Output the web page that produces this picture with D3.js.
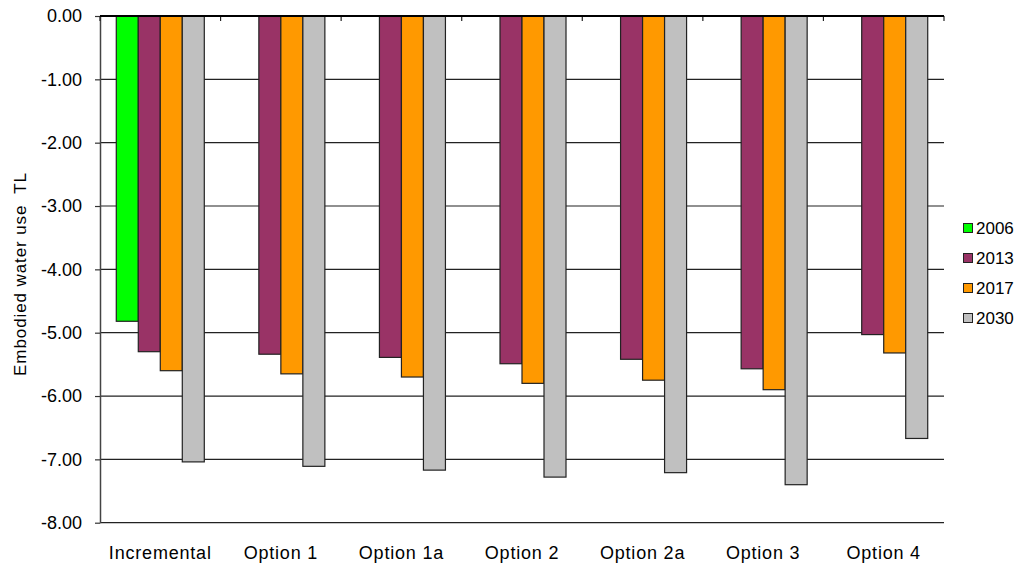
<!DOCTYPE html>
<html>
<head>
<meta charset="utf-8">
<script src="https://cdn.jsdelivr.net/npm/d3@7"></script>
<style>
  html, body { margin: 0; padding: 0; background: #fff; }
  svg { display: block; font-family: "Liberation Sans", Arial, Helvetica, sans-serif; }
</style>
</head>
<body>
<svg id="chart" width="1020" height="565"></svg>
<script>
// Embodied water use (TL) by scenario and year
const categories = ["Incremental", "Option 1", "Option 1a", "Option 2", "Option 2a", "Option 3", "Option 4"];
const seriesNames = ["2006", "2013", "2017", "2030"];
const values2006 = [-4.82, null, null, null, null, null, null];
const values2013 = [-5.30, -5.34, -5.39, -5.49, -5.42, -5.57, -5.03];
const values2017 = [-5.60, -5.65, -5.70, -5.80, -5.75, -5.90, -5.32];
const values2030 = [-7.04, -7.11, -7.17, -7.28, -7.21, -7.40, -6.67];
const yTicks = [0, -1, -2, -3, -4, -5, -6, -7, -8];
const seriesColors = ["#00FF00", "#993366", "#FF9900", "#C0C0C0"];
const yTitle = "Embodied water use  TL";

const seriesValues = [values2006, values2013, values2017, values2030];

const svg = d3.select("#chart");
const plotLeft = 100, plotRight = 944, plotTop = 16, plotBottom = 522.7;

const x0 = d3.scaleBand().domain(categories).range([plotLeft, plotRight])
  .paddingInner(0.27).paddingOuter(0.135);
const x1 = d3.scaleBand().domain(seriesNames).range([0, x0.bandwidth()]);
const y = d3.scaleLinear().domain([0, -8]).range([plotTop, plotBottom]);

// horizontal gridlines
svg.append("g").selectAll("line").data(yTicks.filter(d => d !== 0)).join("line")
  .attr("x1", plotLeft).attr("x2", plotRight)
  .attr("y1", d => y(d)).attr("y2", d => y(d))
  .attr("stroke", "#222").attr("stroke-width", 1.2);

// bars
const groups = svg.append("g").selectAll("g").data(categories).join("g")
  .attr("transform", d => `translate(${x0(d)},0)`);
groups.selectAll("rect")
  .data((c, i) => seriesNames.map((s, j) => ({ s, j, v: seriesValues[j][i] })).filter(d => d.v != null))
  .join("rect")
  .attr("x", d => x1(d.s))
  .attr("width", x1.bandwidth())
  .attr("y", y(0))
  .attr("height", d => y(d.v) - y(0))
  .attr("fill", d => seriesColors[d.j])
  .attr("stroke", "#222")
  .attr("stroke-width", 1.2);

// value axis
const yAxis = d3.axisLeft(y).tickValues(yTicks).tickSize(5).tickSizeOuter(0)
  .tickFormat(d => d.toFixed(2));
const ya = svg.append("g").attr("transform", `translate(${plotLeft},0)`).call(yAxis);
ya.select(".domain").attr("stroke", "#444").attr("stroke-width", 1.5);
ya.selectAll(".tick line").attr("stroke", "#333").attr("stroke-width", 1.2);
ya.selectAll(".tick text").attr("x", -18).attr("font-size", 18)
  .attr("fill", "#000").attr("font-family", "Liberation Sans, Arial, sans-serif");

// category axis along zero line, ticks at band boundaries
svg.append("g").selectAll("line")
  .data(d3.range(categories.length + 1))
  .join("line")
  .attr("x1", i => plotLeft + i * x0.step()).attr("x2", i => plotLeft + i * x0.step())
  .attr("y1", y(0)).attr("y2", y(0) + 5)
  .attr("stroke", "#222").attr("stroke-width", 1.2);
svg.append("line")
  .attr("x1", plotLeft).attr("x2", plotRight)
  .attr("y1", y(0)).attr("y2", y(0))
  .attr("stroke", "#000").attr("stroke-width", 2.2);

// category labels
svg.append("g").selectAll("text").data(categories).join("text")
  .attr("x", d => x0(d) + x0.bandwidth() / 2)
  .attr("y", 559)
  .attr("text-anchor", "middle")
  .attr("font-size", 18)
  .attr("letter-spacing", 0.8)
  .text(d => d);

// axis title
svg.append("text")
  .attr("transform", "translate(26,274) rotate(-90)")
  .attr("text-anchor", "middle")
  .attr("font-size", 17)
  .attr("letter-spacing", 0.9)
  .style("white-space", "pre")
  .text(yTitle);

// legend
const legend = svg.append("g").selectAll("g").data(seriesNames).join("g")
  .attr("transform", (d, i) => `translate(963,${228 + i * 30})`);
legend.append("rect")
  .attr("x", 0.5).attr("y", -4.5).attr("width", 9).attr("height", 9)
  .attr("fill", (d, i) => seriesColors[i]).attr("stroke", "#222").attr("stroke-width", 1);
legend.append("text")
  .attr("x", 13).attr("y", 0).attr("dy", "0.35em")
  .attr("font-size", 17)
  .text(d => d);
</script>
</body>
</html>
